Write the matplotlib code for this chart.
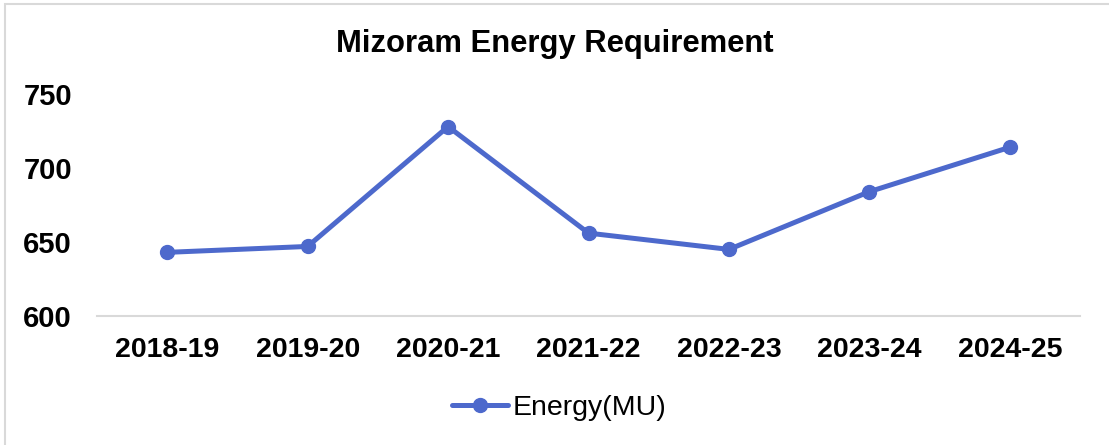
import matplotlib
matplotlib.use("Agg")
import matplotlib.pyplot as plt
from matplotlib.patches import Rectangle

categories = ["2018-19", "2019-20", "2020-21", "2021-22", "2022-23", "2023-24", "2024-25"]
energy_mu = [643, 647, 728, 656, 645, 684, 714]
series_name = "Energy(MU)"
title = "Mizoram Energy Requirement"
yticks = [600, 650, 700, 750]

W, H = 1109, 445
fig = plt.figure(figsize=(W / 100, H / 100), dpi=100)
plt.rcParams['font.family'] = ['Liberation Sans', 'DejaVu Sans']

color = '#4D69CC'
ax = fig.add_axes([97 / W, 1 - 316 / H, (1080 - 97) / W, (316 - 94) / H])
x = list(range(len(categories)))
ax.plot(x, energy_mu, color=color, lw=3.6, marker='o', markersize=10,
        solid_capstyle='round', label=series_name, clip_on=False)
ax.set_xlim(-0.5, len(categories) - 0.5)
ax.set_ylim(600, 750)
ax.set_yticks(yticks)
ax.set_xticks(x)
ax.set_xticklabels(categories)
for s in ['top', 'right', 'left']:
    ax.spines[s].set_visible(False)
ax.spines['bottom'].set_color('#D9D9D9')
ax.spines['bottom'].set_linewidth(1.5)
ax.tick_params(axis='x', length=0, pad=15, labelsize=20.5)
ax.tick_params(axis='y', length=0, pad=18, labelsize=21)
for lab in ax.get_xticklabels() + ax.get_yticklabels():
    lab.set_fontweight('bold')

fig.text(555 / W, 1 - 44 / H, title, ha='center', va='center', fontsize=22.3,
         fontweight='bold')

fig.legend(loc='center', bbox_to_anchor=(559 / W, 1 - 408 / H), frameon=False,
           fontsize=20.5, handlelength=2.0, handletextpad=0.15)

# chart border (left and top visible)
fig.patches.append(Rectangle((5 / W, -0.1), 1.2, 1 - 4 / H + 0.1, transform=fig.transFigure,
                             fill=False, edgecolor='#D9D9D9', lw=1.5))

fig.savefig('out.png', dpi=100)
